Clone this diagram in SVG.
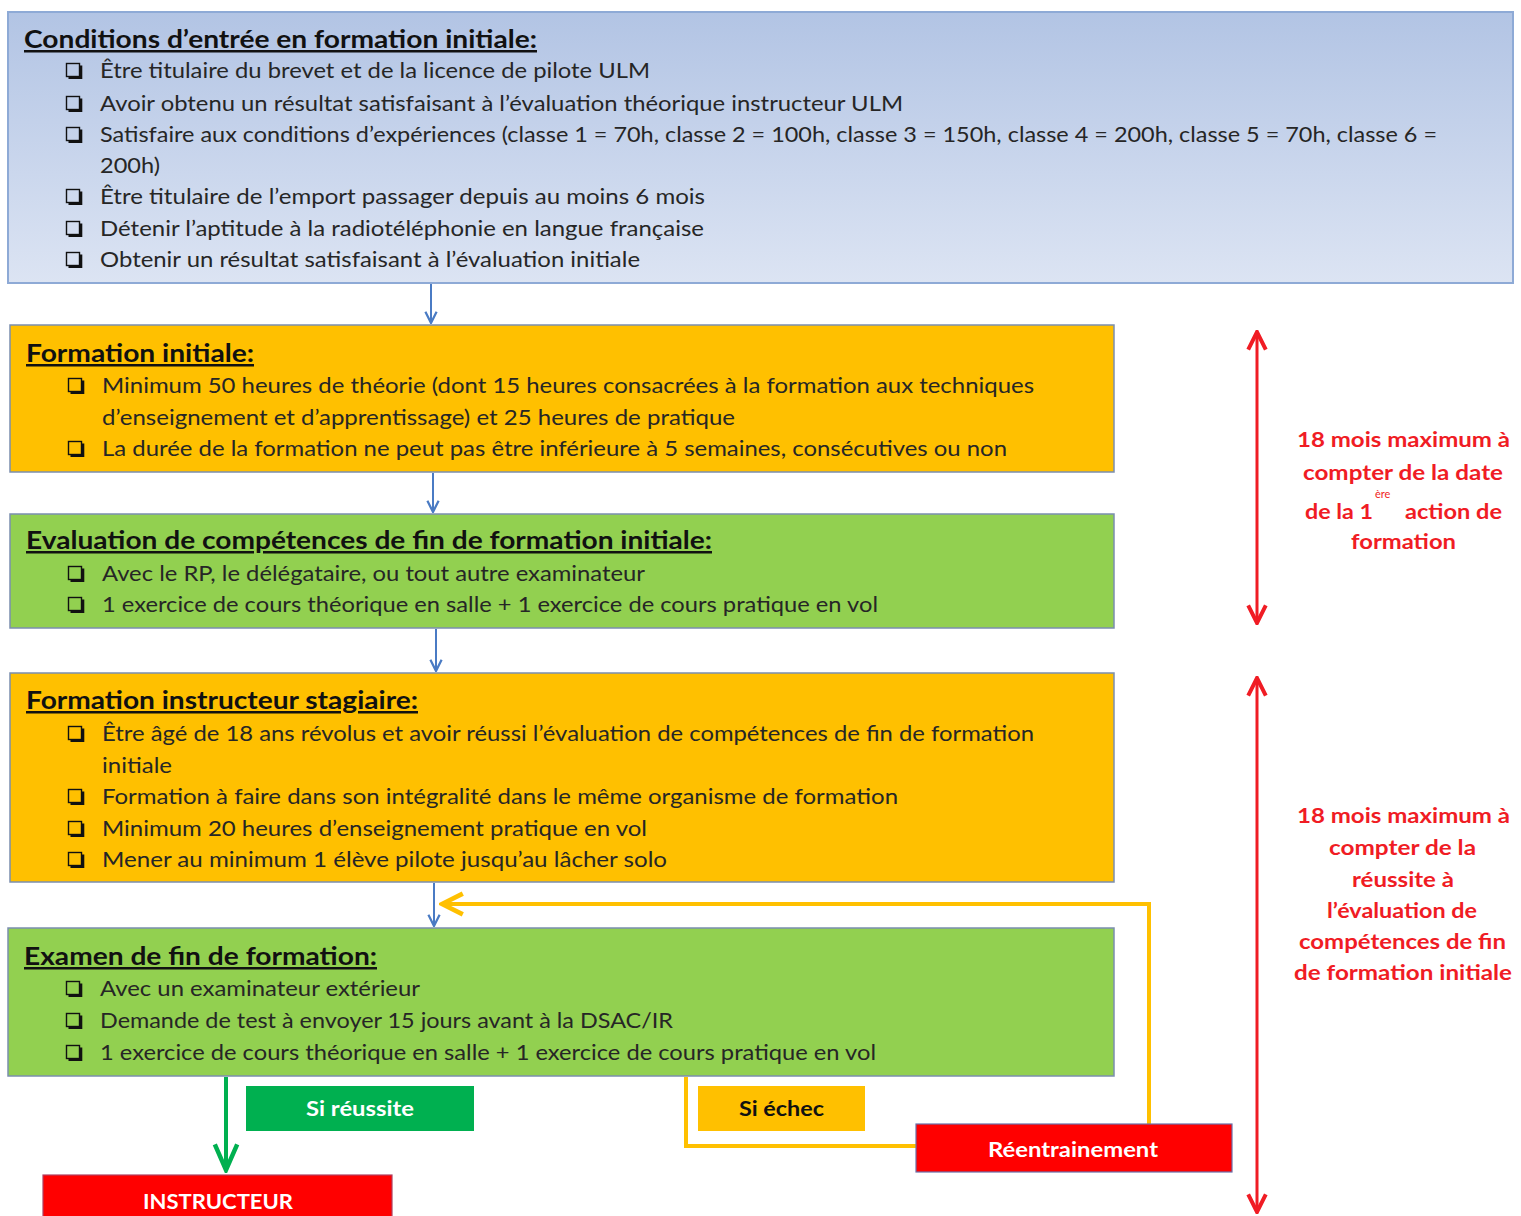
<svg xmlns="http://www.w3.org/2000/svg" width="1521" height="1216" viewBox="0 0 1521 1216">
<style>
.t{font-family:Lato,"Liberation Sans",sans-serif;font-size:22px;fill:#262626}
.h{font-family:Lato,"Liberation Sans",sans-serif;font-size:25px;font-weight:bold;fill:#111;text-decoration:underline}
.r{font-family:Lato,"Liberation Sans",sans-serif;font-size:21px;font-weight:bold;fill:#f01c24}
.w{font-family:Lato,"Liberation Sans",sans-serif;font-size:21px;font-weight:bold;fill:#fff}
.k{font-family:Lato,"Liberation Sans",sans-serif;font-size:21px;font-weight:bold;fill:#111}
.box{stroke:#7b8fae;stroke-width:1.5}
.or{fill:#ffc000}
.gr{fill:#92d050}
.blue{stroke:#4a7bc4;stroke-width:2;fill:none}
</style>
<defs>
<linearGradient id="bg" x1="0" y1="0" x2="0" y2="1">
<stop offset="0" stop-color="#b2c4e4"/>
<stop offset="1" stop-color="#dce4f3"/>
</linearGradient>
<g id="cb"><rect x="0.5" y="0.5" width="13" height="13" fill="none" stroke="#111" stroke-width="1.4"/><path d="M2.5,14.8 H15 V2.5" fill="none" stroke="#111" stroke-width="2.6"/></g>
<marker id="ab" markerWidth="14" markerHeight="14" refX="9" refY="5" orient="auto" markerUnits="userSpaceOnUse" viewBox="0 0 10 10"><path d="M1,1 L9,5 L1,9" fill="none" stroke="#4a7bc4" stroke-width="1.6"/></marker>
<marker id="ar" markerWidth="22" markerHeight="22" refX="9" refY="5" orient="auto-start-reverse" markerUnits="userSpaceOnUse" viewBox="0 0 10 10"><path d="M1,1 L9,5 L1,9" fill="none" stroke="#f01c24" stroke-width="1.8"/></marker>
<marker id="ag" markerWidth="32" markerHeight="32" refX="9" refY="5" orient="auto" markerUnits="userSpaceOnUse" viewBox="0 0 10 10"><path d="M1,1.5 L9,5 L1,8.5" fill="none" stroke="#00b050" stroke-width="1.4"/></marker>
<marker id="ay" markerWidth="26" markerHeight="26" refX="9" refY="5" orient="auto" markerUnits="userSpaceOnUse" viewBox="0 0 10 10"><path d="M1,1 L9,5 L1,9" fill="none" stroke="#ffc000" stroke-width="1.8"/></marker>
</defs>
<rect width="1521" height="1216" fill="#fff"/>

<g id="connectors">
<line class="blue" x1="431" y1="284" x2="431" y2="323" marker-end="url(#ab)"/>
<line class="blue" x1="433" y1="473" x2="433" y2="512" marker-end="url(#ab)"/>
<line class="blue" x1="436" y1="629" x2="436" y2="671" marker-end="url(#ab)"/>
<line class="blue" x1="434" y1="883" x2="434" y2="926" marker-end="url(#ab)"/>
<polyline points="1149,1124 1149,904 442,904" fill="none" stroke="#ffc000" stroke-width="4" marker-end="url(#ay)"/>
<polyline points="686,1077 686,1146 916,1146" fill="none" stroke="#ffc000" stroke-width="4"/>
<line x1="226" y1="1077" x2="226" y2="1170" stroke="#00b050" stroke-width="4" marker-end="url(#ag)"/>
<line x1="1257" y1="332" x2="1257" y2="623" stroke="#f01c24" stroke-width="3" marker-start="url(#ar)" marker-end="url(#ar)"/>
<line x1="1257" y1="678" x2="1257" y2="1212" stroke="#f01c24" stroke-width="3" marker-start="url(#ar)" marker-end="url(#ar)"/>
</g>

<g id="conditions">
<rect x="8" y="12" width="1505" height="271" fill="url(#bg)" stroke="#8eaad6" stroke-width="2"/>
<text class="h" x="24" y="48" textLength="513" lengthAdjust="spacingAndGlyphs">Conditions d’entrée en formation initiale:</text>
<use href="#cb" x="66" y="63"/><text class="t" x="100" y="78" textLength="550" lengthAdjust="spacingAndGlyphs">Être titulaire du brevet et de la licence de pilote ULM</text>
<use href="#cb" x="66" y="96"/><text class="t" x="100" y="111" textLength="803" lengthAdjust="spacingAndGlyphs">Avoir obtenu un résultat satisfaisant à l’évaluation théorique instructeur ULM</text>
<use href="#cb" x="66" y="127"/><text class="t" x="100" y="142" textLength="1337" lengthAdjust="spacingAndGlyphs">Satisfaire aux conditions d’expériences (classe 1 = 70h, classe 2 = 100h, classe 3 = 150h, classe 4 = 200h, classe 5 = 70h, classe 6 =</text>
<text class="t" x="100" y="173" textLength="60" lengthAdjust="spacingAndGlyphs">200h)</text>
<use href="#cb" x="66" y="189"/><text class="t" x="100" y="204" textLength="605" lengthAdjust="spacingAndGlyphs">Être titulaire de l’emport passager depuis au moins 6 mois</text>
<use href="#cb" x="66" y="221"/><text class="t" x="100" y="236" textLength="604" lengthAdjust="spacingAndGlyphs">Détenir l’aptitude à la radiotéléphonie en langue française</text>
<use href="#cb" x="66" y="252"/><text class="t" x="100" y="267" textLength="540" lengthAdjust="spacingAndGlyphs">Obtenir un résultat satisfaisant à l’évaluation initiale</text>
</g>

<g id="formation-initiale">
<rect class="box or" x="10" y="325" width="1104" height="147"/>
<text class="h" x="26" y="362" textLength="228" lengthAdjust="spacingAndGlyphs">Formation initiale:</text>
<use href="#cb" x="68" y="378"/><text class="t" x="102" y="393" textLength="932" lengthAdjust="spacingAndGlyphs">Minimum 50 heures de théorie (dont 15 heures consacrées à la formation aux techniques</text>
<text class="t" x="102" y="425" textLength="633" lengthAdjust="spacingAndGlyphs">d’enseignement et d’apprentissage) et 25 heures de pratique</text>
<use href="#cb" x="68" y="441"/><text class="t" x="102" y="456" textLength="905" lengthAdjust="spacingAndGlyphs">La durée de la formation ne peut pas être inférieure à 5 semaines, consécutives ou non</text>
</g>

<g id="evaluation">
<rect class="box gr" x="10" y="514" width="1104" height="114"/>
<text class="h" x="26" y="549" textLength="686" lengthAdjust="spacingAndGlyphs">Evaluation de compétences de fin de formation initiale:</text>
<use href="#cb" x="68" y="566"/><text class="t" x="102" y="581" textLength="543" lengthAdjust="spacingAndGlyphs">Avec le RP, le délégataire, ou tout autre examinateur</text>
<use href="#cb" x="68" y="597"/><text class="t" x="102" y="612" textLength="776" lengthAdjust="spacingAndGlyphs">1 exercice de cours théorique en salle + 1 exercice de cours pratique en vol</text>
</g>

<g id="formation-stagiaire">
<rect class="box or" x="10" y="673" width="1104" height="209"/>
<text class="h" x="26" y="709" textLength="392" lengthAdjust="spacingAndGlyphs">Formation instructeur stagiaire:</text>
<use href="#cb" x="68" y="726"/><text class="t" x="102" y="741" textLength="932" lengthAdjust="spacingAndGlyphs">Être âgé de 18 ans révolus et avoir réussi l’évaluation de compétences de fin de formation</text>
<text class="t" x="102" y="773" textLength="70" lengthAdjust="spacingAndGlyphs">initiale</text>
<use href="#cb" x="68" y="789"/><text class="t" x="102" y="804" textLength="796" lengthAdjust="spacingAndGlyphs">Formation à faire dans son intégralité dans le même organisme de formation</text>
<use href="#cb" x="68" y="821"/><text class="t" x="102" y="836" textLength="545" lengthAdjust="spacingAndGlyphs">Minimum 20 heures d’enseignement pratique en vol</text>
<use href="#cb" x="68" y="852"/><text class="t" x="102" y="867" textLength="565" lengthAdjust="spacingAndGlyphs">Mener au minimum 1 élève pilote jusqu’au lâcher solo</text>
</g>

<g id="examen">
<rect class="box gr" x="8" y="928" width="1106" height="148"/>
<text class="h" x="24" y="965" textLength="353" lengthAdjust="spacingAndGlyphs">Examen de fin de formation:</text>
<use href="#cb" x="66" y="981"/><text class="t" x="100" y="996" textLength="320" lengthAdjust="spacingAndGlyphs">Avec un examinateur extérieur</text>
<use href="#cb" x="66" y="1013"/><text class="t" x="100" y="1028" textLength="573" lengthAdjust="spacingAndGlyphs">Demande de test à envoyer 15 jours avant à la DSAC/IR</text>
<use href="#cb" x="66" y="1045"/><text class="t" x="100" y="1060" textLength="776" lengthAdjust="spacingAndGlyphs">1 exercice de cours théorique en salle + 1 exercice de cours pratique en vol</text>
</g>

<g id="si-reussite">
<rect x="246" y="1086" width="228" height="45" fill="#00b050"/>
<text class="w" x="306" y="1116" textLength="108" lengthAdjust="spacingAndGlyphs">Si réussite</text>
</g>

<g id="si-echec">
<rect x="698" y="1086" width="167" height="45" fill="#ffc000"/>
<text class="k" x="739" y="1116" textLength="85" lengthAdjust="spacingAndGlyphs">Si échec</text>
</g>

<g id="reentrainement">
<rect x="916" y="1124" width="316" height="48" fill="#ff0000" stroke="#6b6fa8" stroke-width="1.2"/>
<text class="w" x="988" y="1157" textLength="170" lengthAdjust="spacingAndGlyphs">Réentrainement</text>
</g>

<g id="instructeur">
<rect x="43" y="1175" width="349" height="45" fill="#ff0000" stroke="#b04060" stroke-width="1.2"/>
<text class="w" x="143" y="1209" textLength="150" lengthAdjust="spacingAndGlyphs">INSTRUCTEUR</text>
</g>

<g id="delai-1">
<text class="r" x="1297" y="447" textLength="213" lengthAdjust="spacingAndGlyphs">18 mois maximum à</text>
<text class="r" x="1303" y="480" textLength="200" lengthAdjust="spacingAndGlyphs">compter de la date</text>
<text class="r" x="1305" y="519" textLength="68" lengthAdjust="spacingAndGlyphs">de la 1</text>
<text class="r" x="1375" y="498" style="font-size:11px;font-weight:normal">ère</text>
<text class="r" x="1405" y="519" textLength="97" lengthAdjust="spacingAndGlyphs">action de</text>
<text class="r" x="1351" y="549" textLength="105" lengthAdjust="spacingAndGlyphs">formation</text>
</g>

<g id="delai-2">
<text class="r" x="1297" y="823" textLength="213" lengthAdjust="spacingAndGlyphs">18 mois maximum à</text>
<text class="r" x="1329" y="855" textLength="147" lengthAdjust="spacingAndGlyphs">compter de la</text>
<text class="r" x="1352" y="887" textLength="102" lengthAdjust="spacingAndGlyphs">réussite à</text>
<text class="r" x="1327" y="918" textLength="150" lengthAdjust="spacingAndGlyphs">l’évaluation de</text>
<text class="r" x="1299" y="949" textLength="207" lengthAdjust="spacingAndGlyphs">compétences de fin</text>
<text class="r" x="1294" y="980" textLength="218" lengthAdjust="spacingAndGlyphs">de formation initiale</text>
</g>
</svg>
